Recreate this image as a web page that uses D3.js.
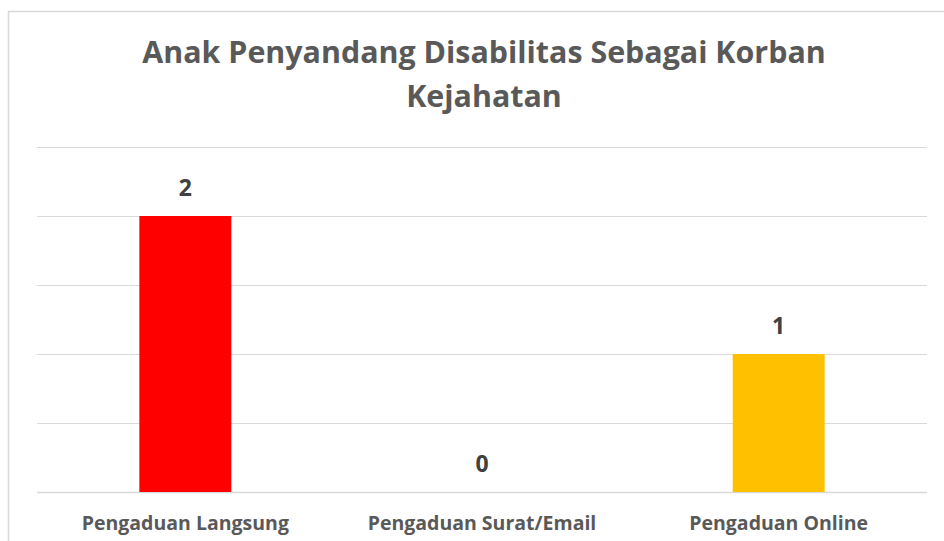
<!DOCTYPE html>
<html>
<head>
<meta charset="utf-8">
<script src="https://cdn.jsdelivr.net/npm/d3@7"></script>
<style>
  body { margin: 0; background: #fff; }
  svg { display: block; }
</style>
</head>
<body>
<script>
const categories = ['Pengaduan Langsung', 'Pengaduan Surat/Email', 'Pengaduan Online']
const values = [2, 0, 1]
const barColors = ['#ff0000', '#ed7d31', '#ffc000']
const yTicks = [0, 0.5, 1, 1.5, 2, 2.5]
const titleLines = ['Anak Penyandang Disabilitas Sebagai Korban', 'Kejahatan']

const width = 944
const height = 541
const font = '"Open Sans", "Noto Sans", sans-serif'

const svg = d3.select('body').append('svg')
  .attr('width', width)
  .attr('height', height)

// chart frame (runs off the right and bottom edge like the source)
svg.append('rect')
  .attr('x', 8.5)
  .attr('y', 11.5)
  .attr('width', width + 20)
  .attr('height', height + 20)
  .attr('fill', '#fff')
  .attr('stroke', '#d9d9d9')
  .attr('stroke-width', 1.5)

const plot = { left: 37, right: 927, top: 147, bottom: 492 }

const x = d3.scaleBand()
  .domain(categories)
  .range([plot.left, plot.right])

const y = d3.scaleLinear()
  .domain([0, 2.5])
  .range([plot.bottom, plot.top])

// gridlines
svg.append('g')
  .selectAll('line')
  .data(yTicks)
  .join('line')
  .attr('x1', plot.left)
  .attr('x2', plot.right)
  .attr('y1', d => Math.round(y(d)) + 0.5)
  .attr('y2', d => Math.round(y(d)) + 0.5)
  .attr('stroke', '#d9d9d9')
  .attr('stroke-width', d => d === 0 ? 1.5 : 1)

const barW = x.bandwidth() * 0.31

svg.append('g')
  .selectAll('rect')
  .data(values)
  .join('rect')
  .attr('x', (d, i) => x(categories[i]) + (x.bandwidth() - barW) / 2)
  .attr('y', d => y(d))
  .attr('width', barW)
  .attr('height', d => y(0) - y(d))
  .attr('fill', (d, i) => barColors[i])

// value labels
svg.append('g')
  .selectAll('text')
  .data(values)
  .join('text')
  .attr('x', (d, i) => x(categories[i]) + x.bandwidth() / 2)
  .attr('y', d => y(d) - 20)
  .attr('text-anchor', 'middle')
  .attr('font-family', font)
  .attr('font-weight', 'bold')
  .attr('font-size', 23)
  .attr('fill', '#404040')
  .text(d => d)

// category labels
svg.append('g')
  .selectAll('text')
  .data(categories)
  .join('text')
  .attr('x', d => x(d) + x.bandwidth() / 2)
  .attr('y', 530)
  .attr('text-anchor', 'middle')
  .attr('font-family', font)
  .attr('font-weight', 'bold')
  .attr('font-size', 19.5)
  .attr('fill', '#595959')
  .text(d => d)

// title
svg.append('g')
  .selectAll('text')
  .data(titleLines)
  .join('text')
  .attr('x', 484)
  .attr('y', (d, i) => 63 + i * 44)
  .attr('text-anchor', 'middle')
  .attr('font-family', font)
  .attr('font-weight', 'bold')
  .attr('font-size', 30.4)
  .attr('fill', '#595959')
  .text(d => d)
</script>
</body>
</html>
